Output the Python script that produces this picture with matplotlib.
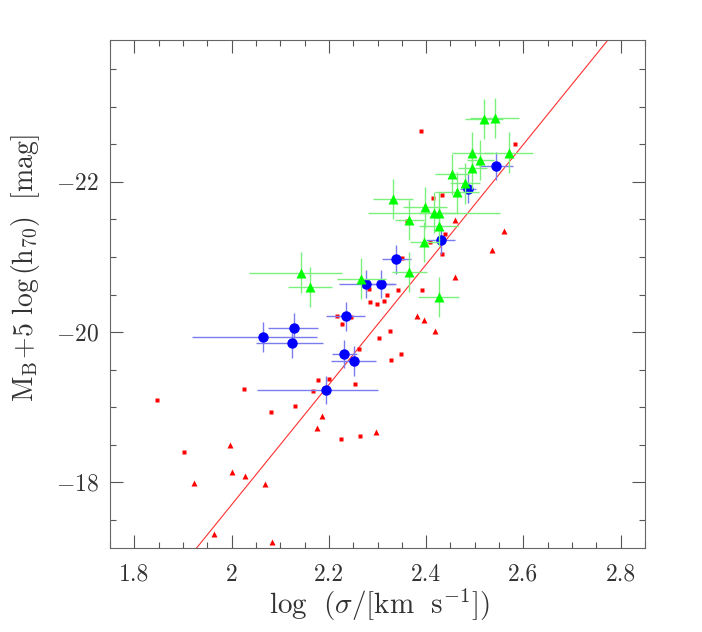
import matplotlib
matplotlib.use("Agg")
import matplotlib.pyplot as plt
from matplotlib.ticker import MultipleLocator

plt.rcParams['font.family'] = 'serif'
plt.rcParams['font.serif'] = ['cmr10', 'DejaVu Serif']
plt.rcParams['mathtext.fontset'] = 'cm'
plt.rcParams['axes.formatter.use_mathtext'] = True

# blue circles (with error bars)
blue_logsig = [2.065, 2.128, 2.124, 2.236, 2.232, 2.251, 2.194, 2.277, 2.308, 2.339, 2.430, 2.486, 2.543]
blue_mag = [-19.93, -20.05, -19.85, -20.21, -19.71, -19.62, -19.23, -20.64, -20.64, -20.97, -21.23, -21.91, -22.21]
blue_xlo = [0.146, 0.054, 0.074, 0.042, 0.025, 0.046, 0.141, 0.056, 0.030, 0.030, 0.030, 0.016, 0.035]
blue_xhi = [0.111, 0.049, 0.064, 0.039, 0.025, 0.046, 0.107, 0.056, 0.030, 0.030, 0.030, 0.016, 0.035]
blue_yerr = [0.20, 0.20, 0.19, 0.19, 0.19, 0.20, 0.19, 0.19, 0.19, 0.19, 0.19, 0.19, 0.19]

# green triangles (with error bars)
green_logsig = [2.142, 2.161, 2.267, 2.331, 2.365, 2.397, 2.416, 2.426, 2.426, 2.396, 2.365,
                2.426, 2.454, 2.495, 2.511, 2.495, 2.463, 2.480, 2.519, 2.541, 2.570]
green_mag = [-20.79, -20.60, -20.71, -21.77, -21.49, -21.66, -21.59, -21.59, -21.41, -21.20, -20.80,
             -20.47, -22.10, -22.39, -22.29, -22.18, -21.86, -21.98, -22.84, -22.85, -22.39]
green_xlo = [0.107, 0.045, 0.050, 0.041, 0.030, 0.045, 0.135, 0.040, 0.040, 0.030, 0.036,
             0.042, 0.035, 0.042, 0.028, 0.030, 0.045, 0.030, 0.040, 0.050, 0.050]
green_xhi = [0.086, 0.045, 0.050, 0.041, 0.030, 0.045, 0.135, 0.040, 0.040, 0.030, 0.036,
             0.042, 0.035, 0.042, 0.028, 0.030, 0.045, 0.030, 0.040, 0.050, 0.050]
green_yerr = [0.27] * 21

# small red squares
sq_logsig = [1.846, 1.903, 2.025, 2.080, 2.131, 2.177, 2.168, 2.201, 2.254, 2.224, 2.263, 2.216,
             2.226, 2.245, 2.261, 2.284, 2.298, 2.313, 2.320, 2.342, 2.392, 2.325, 2.303, 2.348,
             2.327, 2.282, 2.351, 2.407, 2.438, 2.433, 2.390, 2.582, 2.414, 2.433, 2.361]
sq_mag = [-19.09, -18.40, -19.24, -18.94, -19.02, -19.36, -19.21, -19.37, -19.31, -18.58, -18.62, -20.21,
          -20.11, -20.20, -19.77, -20.40, -20.37, -20.42, -20.50, -20.56, -20.56, -20.02, -19.92, -19.71,
          -19.63, -20.57, -20.98, -21.20, -21.30, -21.04, -22.68, -22.51, -21.78, -21.82, -21.48]

# small red triangles
tri_logsig = [1.996, 2.000, 2.028, 1.923, 2.068, 1.964, 2.083, 2.186, 2.175, 2.297,
              2.382, 2.396, 2.419, 2.459, 2.560, 2.535, 2.459]
tri_mag = [-18.50, -18.14, -18.08, -17.99, -17.98, -17.31, -17.20, -18.88, -18.72, -18.67,
           -20.21, -20.16, -20.02, -21.49, -21.34, -21.09, -20.73]

# fitted relation: M = fit_zero + fit_slope * (log sigma - 2)
fit_slope = -8.0
fit_zero = -17.70

x_ticks = [1.8, 2.0, 2.2, 2.4, 2.6, 2.8]
x_ticklabels = ['1.8', '2', '2.2', '2.4', '2.6', '2.8']
y_ticks = [-22, -20, -18]
y_ticklabels = [r'$-22$', r'$-20$', r'$-18$']

fig = plt.figure(figsize=(7.02, 6.32), dpi=100)
ax = fig.add_axes([0.1567, 0.1324, 0.7621, 0.8043])

ax.axline((2.0, fit_zero), slope=fit_slope, color='#ff3030', lw=0.8, zorder=1)

ax.plot(sq_logsig, sq_mag, 's', color='#ff0000', ms=3.2, mec='none', zorder=2)
ax.plot(tri_logsig, tri_mag, '^', color='#ff0000', ms=3.8, mec='none', zorder=2)

ax.errorbar(blue_logsig, blue_mag, xerr=[blue_xlo, blue_xhi], yerr=blue_yerr,
            fmt='none', ecolor='#7b7bf0', elinewidth=1.0, capsize=0, zorder=3)
ax.plot(blue_logsig, blue_mag, 'o', color='#0000ff', ms=7.5, mec='none', zorder=4)

ax.errorbar(green_logsig, green_mag, xerr=[green_xlo, green_xhi], yerr=green_yerr,
            fmt='none', ecolor='#7cf07c', elinewidth=1.0, capsize=0, zorder=5)
ax.plot(green_logsig, green_mag, '^', color='#00ff00', ms=7.5, mec='none', zorder=6)

ax.set_xlim(1.75, 2.85)
ax.set_ylim(-17.12, -23.89)

ax.set_xticks(x_ticks)
ax.set_xticklabels(x_ticklabels)
ax.set_yticks(y_ticks)
ax.set_yticklabels(y_ticklabels)
ax.xaxis.set_minor_locator(MultipleLocator(0.05))
ax.yaxis.set_minor_locator(MultipleLocator(0.5))

ax.tick_params(which='both', direction='in', top=True, right=True, color='#555555', width=0.8)
ax.tick_params(which='major', length=9.4, labelsize=17, labelcolor='#333333')
ax.tick_params(which='minor', length=4.3)
ax.tick_params(axis='x', which='major', pad=11)
ax.tick_params(axis='y', which='major', pad=8)
for sp in ax.spines.values():
    sp.set_color('#666666')
    sp.set_linewidth(0.8)

fig.text(379.5 / 702, 1 - 605 / 632, r'$\rm log\ \ (\sigma/[km\ \ s^{-1}])$',
         ha='center', va='center', fontsize=21, color='#333333')
fig.text(26 / 702, 1 - 268 / 632, r'$\rm M_B\!+\!5\ log\,(h_{70})\ \ [mag]$',
         ha='center', va='center', rotation=90, fontsize=20, color='#333333')

fig.savefig('out.png', dpi=100)
